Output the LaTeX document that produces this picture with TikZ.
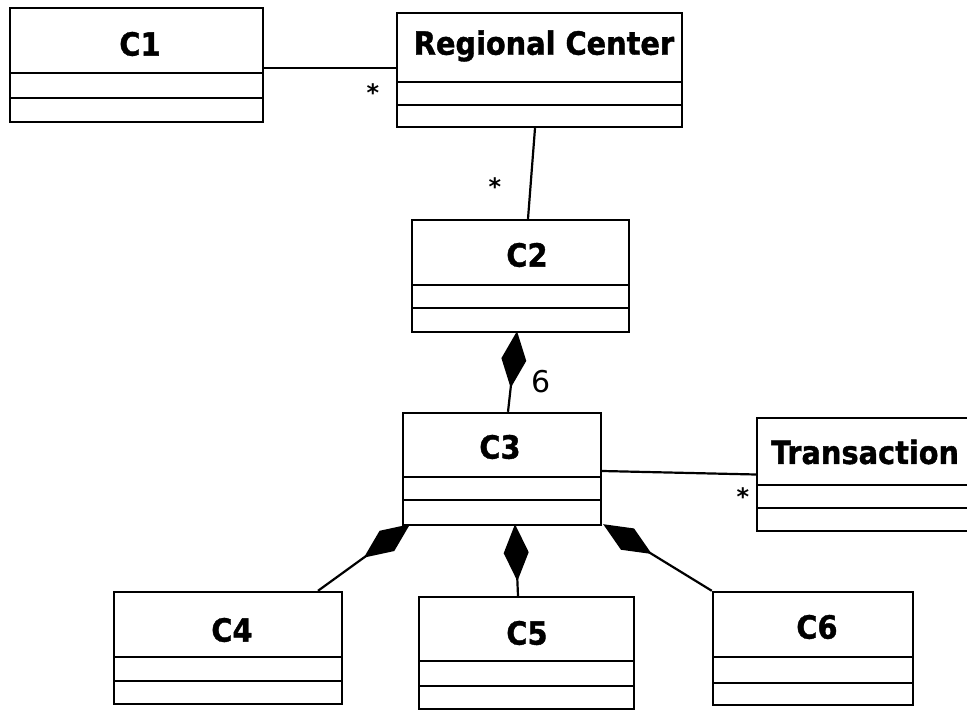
\documentclass[tikz,border=0pt]{standalone}
\usepackage{fontspec}
\setmainfont{DejaVu Sans}
\newfontfamily\clsfont{DejaVu Sans Condensed}[BoldFeatures={FakeBold=1.2}]
\usetikzlibrary{arrows.meta}
\tikzset{
  clsbox/.style={draw, line width=2.4pt, inner sep=0pt},
  clsname/.style={font=\clsfont\bfseries\fontsize{32}{36}\selectfont, inner sep=0pt},
  mult/.style={font=\bfseries\fontsize{24}{28}\selectfont, inner sep=0pt},
  multnum/.style={font=\fontsize{30}{34}\selectfont, inner sep=0pt},
  assoc/.style={line width=2.2pt},
  sep/.style={line width=2.4pt},
  comp/.style={line width=2.2pt, -{Diamond[length=57pt,width=25pt,fill=black]}},
}
\begin{document}
\begin{tikzpicture}[x=1pt,y=-1pt]
\useasboundingbox (0,0) rectangle (967,714);
\clip (0,0) rectangle (967,714);
% class boxes
\node[clsbox, minimum width=253pt, minimum height=114pt] (c1) at (136.5,65) {};
\draw[sep] (10,73) -- (263,73) (10,98) -- (263,98);
\node[clsname] (c1t) at (140,44) {C1};

\node[clsbox, minimum width=285pt, minimum height=114pt] (rc) at (539.5,70) {};
\draw[sep] (397,82) -- (682,82) (397,105) -- (682,105);
\node[clsname] (rct) at (544,46) {Regional Center};

\node[clsbox, minimum width=217pt, minimum height=112pt] (c2) at (520.5,276) {};
\draw[sep] (412,285) -- (629,285) (412,308) -- (629,308);
\node[clsname] (c2t) at (527,255) {C2};

\node[clsbox, minimum width=198pt, minimum height=112pt] (c3) at (502,469) {};
\draw[sep] (403,477) -- (601,477) (403,500) -- (601,500);
\node[clsname] (c3t) at (500,447) {C3};

\node[clsbox, minimum width=228pt, minimum height=113pt] (tr) at (871,474.5) {};
\draw[sep] (757,485) -- (985,485) (757,508) -- (985,508);
\node[clsname, anchor=west] (trt) at (771,452) {Transaction};

\node[clsbox, minimum width=228pt, minimum height=112pt] (c4) at (228,648) {};
\draw[sep] (114,657) -- (342,657) (114,681) -- (342,681);
\node[clsname] (c4t) at (232,630) {C4};

\node[clsbox, minimum width=215pt, minimum height=112pt] (c5) at (526.5,653) {};
\draw[sep] (419,661) -- (634,661) (419,686) -- (634,686);
\node[clsname] (c5t) at (527,633) {C5};

\node[clsbox, minimum width=200pt, minimum height=113pt] (c6) at (813,648.5) {};
\draw[sep] (713,657) -- (913,657) (713,683) -- (913,683);
\node[clsname] (c6t) at (817,627) {C6};

% associations
\draw[assoc] ([yshift=-3pt]c1.east) -- ([yshift=2pt]rc.west);
\draw[assoc] ([xshift=-4.5pt]rc.south) -- ([xshift=7.5pt]c2.north);
\draw[assoc] ([yshift=-2pt]c3.east) -- (tr.west);
% compositions
\draw[comp] ([xshift=6pt]c3.north) -- ([xshift=-3.5pt,yshift=2pt]c2.south);
\draw[comp] ([xshift=90pt]c4.north) -- ([xshift=-92pt,yshift=2pt]c3.south);
\draw[comp] ([xshift=-8.5pt]c5.north) -- ([xshift=13pt,yshift=2pt]c3.south);
\draw[comp] (c6.north west) -- ([xshift=1pt,yshift=2pt]c3.south east);
% multiplicities
\node[mult] (m1) at (373,93) {*};
\node[mult] (m2) at (495,187) {*};
\node[mult] (m3) at (743,497) {*};
\node[multnum] (m4) at (541,382) {6};
\end{tikzpicture}
\end{document}
